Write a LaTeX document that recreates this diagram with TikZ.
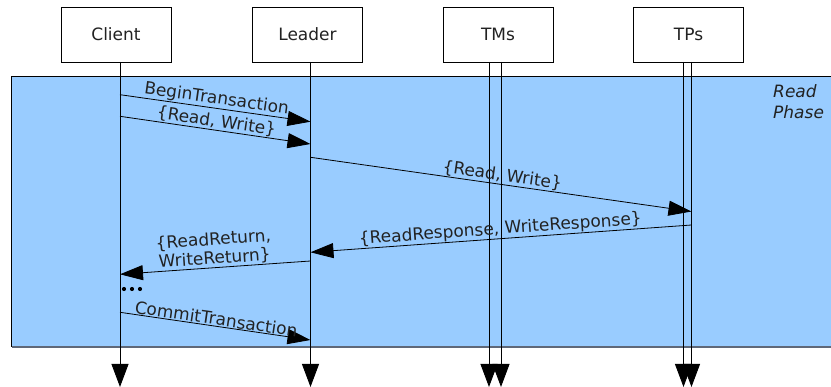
\documentclass[tikz,border=0pt]{standalone}
\usepackage{fontspec}
\setmainfont{DejaVu Sans}
\usetikzlibrary{arrows.meta}
\definecolor{phaseblue}{HTML}{99CCFF}
\definecolor{edgegray}{HTML}{5F6878}
\definecolor{inkgray}{HTML}{222222}
\begin{document}
\begin{tikzpicture}[x=1pt,y=-1pt,
  font=\fontsize{17}{20}\selectfont,
  actor/.style={draw=black,line width=0.9pt,fill=white,minimum width=110pt,minimum height=55pt,inner sep=0pt,text=inkgray},
  lifeline/.style={draw=black,line width=0.9pt,-{Triangle[length=23pt,width=17pt]}},
  msg/.style={draw=black,line width=0.8pt,-{Triangle[length=23pt,width=15pt]}},
  msglabel/.style={sloped,above,inner sep=0.5pt,text=inkgray}]
\useasboundingbox (0,0) rectangle (831,387);

% read phase band
\fill[phaseblue] (11.5,76) rectangle (840,347);
\draw[black,line width=0.9pt] (11.5,347) -- (11.5,76) -- (840,76);
\draw[edgegray,line width=1.8pt] (11.5,347) -- (840,347);
\node[anchor=north west,align=left,inner sep=0pt,font=\fontsize{17}{21}\selectfont\itshape,text=inkgray] (phase) at (773,84) {Read\\Phase};

% participants
\node[actor] (client) at (116,34.5) {Client};
\node[actor] (leader) at (307.5,34.5) {Leader};
\node[actor] (tms) at (498,34.5) {TMs};
\node[actor] (tps) at (688.5,34.5) {TPs};

% lifeline end points
\coordinate (cT) at (120,62);   \coordinate (cB) at (120,387);
\coordinate (lT) at (310.5,62); \coordinate (lB) at (310.5,387);
\coordinate (m1T) at (489,62);  \coordinate (m1B) at (489,387);
\coordinate (m2T) at (501,62);  \coordinate (m2B) at (501,387);
\coordinate (p1T) at (683.5,62); \coordinate (p1B) at (683.5,387);
\coordinate (p2T) at (691.5,62); \coordinate (p2B) at (691.5,387);

\draw[lifeline] (cT) -- (cB);
\draw[lifeline] (lT) -- (lB);
\draw[lifeline] (m1T) -- (m1B);
\draw[lifeline] (m2T) -- (m2B);
\draw[lifeline] (p1T) -- (p1B);
\draw[lifeline] (p2T) -- (p2B);

% message end points
\coordinate (a1) at (120,94.7);  \coordinate (b1) at (310.5,121.7);
\coordinate (a2) at (120,116.3); \coordinate (b2) at (310.5,144);
\coordinate (a3) at (310.5,157.3); \coordinate (b3) at (691.5,211.5);
\coordinate (a4) at (691.5,225); \coordinate (b4) at (310.5,252.3);
\coordinate (a5) at (310.5,261); \coordinate (b5) at (120,274.3);
\coordinate (a6) at (120,312.3); \coordinate (b6) at (310.5,340);

% messages
\draw[msg] (a1) -- node[msglabel] {BeginTransaction} (b1);
\draw[msg] (a2) -- node[msglabel] {\{Read, Write\}} (b2);
\draw[msg] (a3) -- node[msglabel] {\{Read, Write\}} (b3);
\draw[msg] (a4) -- node[msglabel] {\{ReadResponse, WriteResponse\}} (b4);
\draw[msg] (a5) -- node[msglabel,align=center,font=\fontsize{17}{19}\selectfont] {\{ReadReturn,\\WriteReturn\}} (b5);
\draw[msg] (a6) -- node[msglabel] {CommitTransaction} (b6);

% ellipsis between exchanges
\foreach \i/\x in {1/124,2/132,3/140}
  \fill[black] (\x,289) circle (2.1pt) coordinate (dot\i);
\end{tikzpicture}
\end{document}
